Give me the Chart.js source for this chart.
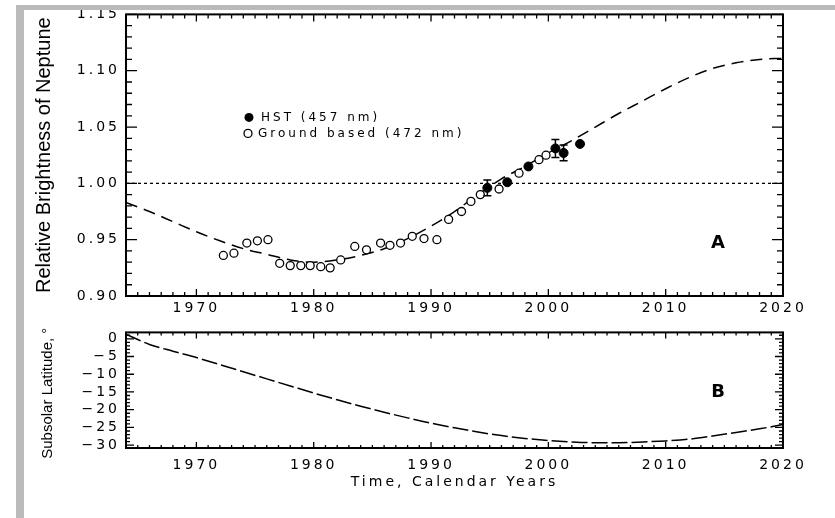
<!DOCTYPE html>
<html>
<head>
  <title>Neptune Brightness</title>
  <script src="https://cdn.jsdelivr.net/npm/chart.js"></script>
  <style>
    body { margin: 0; background: #fff; }
    #frame { position: relative; width: 835px; height: 518px; overflow: hidden; }
    .band { position: absolute; background: #bababa; z-index: 2; }
    canvas { position: absolute; left: 0; }
  </style>
</head>
<body>
  <div id="frame">
    <div class="band" style="left:16px; top:5px; width:819px; height:5px;"></div>
    <div class="band" style="left:16px; top:5px; width:8px; height:513px;"></div>
    <canvas id="brightChart" width="835" height="318" style="top:0"></canvas>
    <canvas id="latChart" width="835" height="200" style="top:318px"></canvas>
  </div>

  <script>
    // tick labels
    const yearTicks = [1970, 1980, 1990, 2000, 2010, 2020];
    const yearTickLabels = ['1970', '1980', '1990', '2000', '2010', '2020'];
    const brightTicks = [0.90, 0.95, 1.00, 1.05, 1.10, 1.15];
    const brightTickLabels = ['0.90', '0.95', '1.00', '1.05', '1.10', '1.15'];
    const latTicks = [0, -5, -10, -15, -20, -25, -30];
    const latTickLabels = ['0', '−5', '−10', '−15', '−20', '−25', '−30'];

    // ground based photometry (472 nm)
    const groundYears = [1972.3, 1973.2, 1974.3, 1975.2, 1976.1, 1977.1, 1978.0, 1978.9, 1979.7, 1980.6,
      1981.4, 1982.3, 1983.5, 1984.5, 1985.7, 1986.5, 1987.4, 1988.4, 1989.4, 1990.5,
      1991.5, 1992.6, 1993.4, 1994.2, 1995.8, 1997.5, 1999.2, 1999.8];
    const groundBright = [0.936, 0.938, 0.947, 0.949, 0.950, 0.929, 0.927, 0.927, 0.927, 0.926,
      0.925, 0.932, 0.944, 0.941, 0.947, 0.945, 0.947, 0.953, 0.951, 0.950,
      0.968, 0.975, 0.984, 0.990, 0.995, 1.009, 1.021, 1.025];

    // HST (457 nm)
    const hstYears = [1994.8, 1996.5, 1998.3, 2000.6, 2001.3, 2002.7];
    const hstBright = [0.996, 1.001, 1.015, 1.031, 1.027, 1.035];
    const hstErr = [0.007, 0, 0, 0.008, 0.007, 0];

    // model curve
    const modelYears = [1964, 1966, 1968, 1970, 1972, 1974, 1976, 1978, 1980, 1982, 1984, 1986, 1988, 1990,
      1992, 1994, 1996, 1998, 2000, 2002, 2004, 2006, 2008, 2010, 2012, 2014, 2016, 2018, 2020];
    const modelBright = [0.983, 0.975, 0.966, 0.957, 0.949, 0.942, 0.937, 0.932, 0.930, 0.932, 0.936, 0.942, 0.951, 0.962,
      0.975, 0.990, 1.004, 1.015, 1.027, 1.038, 1.050, 1.062, 1.073, 1.084, 1.094, 1.102, 1.107, 1.110, 1.111];

    const refYears = [1964, 2020];
    const refBright = [1.00, 1.00];

    // subsolar latitude
    const latYears = [1964, 1966, 1968, 1970, 1972, 1974, 1976, 1978, 1980, 1982, 1984, 1986, 1988, 1990,
      1992, 1994, 1996, 1998, 2000, 2002, 2004, 2006, 2008, 2010, 2012, 2014, 2016, 2018, 2020];
    const latValues = [1.3, -1.6, -3.5, -5.3, -7.3, -9.3, -11.3, -13.3, -15.3, -17.2, -19.0, -20.7, -22.3, -23.8,
      -25.1, -26.3, -27.3, -28.1, -28.7, -29.1, -29.3, -29.3, -29.1, -28.8, -28.3, -27.4, -26.4, -25.4, -24.2];

    function pts(xs, ys) {
      return xs.map((x, i) => ({ x: x, y: ys[i] }));
    }

    const tickFont = { family: 'DejaVu Sans', size: 14 };

    // wide lettering for the axis numbers, like the scanned figure
    const spacedText = {
      id: 'spacedText',
      beforeDraw(chart) { chart.ctx.letterSpacing = '3px'; },
      beforeDatasetsDraw(chart) { chart.ctx.letterSpacing = '0px'; }
    };

    function marks(min, max, step, every) {
      const out = [];
      const i0 = Math.ceil(min / step - 1e-6), i1 = Math.floor(max / step + 1e-6);
      for (let i = i0; i <= i1; i++) out.push({ v: i * step, major: i % every === 0 });
      return out;
    }

    // box with inward ticks on all four sides
    const frameTicks = {
      id: 'frameTicks',
      afterDatasetsDraw(chart, args, o) {
        const { ctx, chartArea: a, scales: { x, y } } = chart;
        ctx.save();
        ctx.strokeStyle = '#000';
        ctx.lineWidth = 1.3;
        ctx.beginPath();
        marks(x.min, x.max, o.xStep, o.xEvery).forEach(m => {
          const px = x.getPixelForValue(m.v);
          const len = m.major ? o.xMajor : o.xMinor;
          ctx.moveTo(px, a.bottom); ctx.lineTo(px, a.bottom - len);
          ctx.moveTo(px, a.top); ctx.lineTo(px, a.top + len);
        });
        marks(y.min, y.max, o.yStep, o.yEvery).forEach(m => {
          const py = y.getPixelForValue(m.v);
          const len = m.major ? o.yMajor : o.yMinor;
          ctx.moveTo(a.left, py); ctx.lineTo(a.left + len, py);
          ctx.moveTo(a.right, py); ctx.lineTo(a.right - len, py);
        });
        ctx.stroke();
        ctx.lineWidth = 2;
        ctx.strokeRect(a.left, a.top, a.right - a.left, a.bottom - a.top);
        ctx.restore();
      }
    };

    const errorBars = {
      id: 'errorBars',
      afterDatasetsDraw(chart) {
        const { ctx, scales: { x, y } } = chart;
        ctx.save();
        ctx.strokeStyle = '#000';
        ctx.lineWidth = 1.5;
        hstErr.forEach((e, i) => {
          if (!e) return;
          const px = x.getPixelForValue(hstYears[i]);
          const top = y.getPixelForValue(hstBright[i] + e);
          const bot = y.getPixelForValue(hstBright[i] - e);
          ctx.beginPath();
          ctx.moveTo(px, top); ctx.lineTo(px, bot);
          ctx.moveTo(px - 4, top); ctx.lineTo(px + 4, top);
          ctx.moveTo(px - 4, bot); ctx.lineTo(px + 4, bot);
          ctx.stroke();
        });
        ctx.restore();
      }
    };

    // rotated y titles, panel letters and the inset legend
    const panelText = {
      id: 'panelText',
      afterDraw(chart, args, o) {
        const { ctx, chartArea: a } = chart;
        ctx.save();
        ctx.letterSpacing = '0px';
        ctx.fillStyle = '#000';
        ctx.save();
        ctx.translate(o.titleX, (a.top + a.bottom) / 2 + o.titleShift);
        ctx.rotate(-Math.PI / 2);
        ctx.font = o.titleFont;
        ctx.textAlign = 'center';
        ctx.textBaseline = 'middle';
        ctx.fillText(o.title, 0, 0);
        ctx.restore();

        ctx.font = 'bold 18px "DejaVu Sans"';
        ctx.textAlign = 'center';
        ctx.textBaseline = 'middle';
        ctx.fillText(o.letter, a.right - 65, o.letterFromTop ? a.top + o.letterOffset : a.bottom - o.letterOffset);

        if (o.legend) {
          const lx = a.left + 123, ly = a.top + 103;
          ctx.beginPath();
          ctx.arc(lx, ly, 4.5, 0, Math.PI * 2);
          ctx.fill();
          ctx.beginPath();
          ctx.lineWidth = 1.3;
          ctx.strokeStyle = '#000';
          ctx.arc(lx - 1, ly + 16, 4, 0, Math.PI * 2);
          ctx.stroke();
          ctx.letterSpacing = '3px';
          ctx.font = '12px "DejaVu Sans"';
          ctx.textAlign = 'left';
          ctx.fillText('HST (457 nm)', lx + 12, ly);
          ctx.fillText('Ground based (472 nm)', lx + 9, ly + 16);
        }
        ctx.restore();
      }
    };

    function yearAxis(height, pad) {
      return {
        type: 'linear', min: 1964, max: 2020,
        grid: { display: false, drawTicks: false }, border: { display: false },
        afterBuildTicks: s => { s.ticks = yearTicks.map(v => ({ value: v })); },
        afterFit: s => { s.height = height; },
        ticks: { padding: pad, color: '#000', font: tickFont, autoSkip: false, maxRotation: 0,
          callback: (v, i) => yearTickLabels[i] }
      };
    }

    new Chart(document.getElementById('brightChart'), {
      type: 'scatter',
      data: {
        datasets: [
          { label: 'HST (457 nm)', data: pts(hstYears, hstBright), pointRadius: 4.5,
            pointBackgroundColor: '#000', pointBorderColor: '#000', order: 0 },
          { label: 'Ground based (472 nm)', data: pts(groundYears, groundBright), pointRadius: 4,
            pointBackgroundColor: '#fff', pointBorderColor: '#000', pointBorderWidth: 1.3, order: 1 },
          { label: 'Model', data: pts(modelYears, modelBright), showLine: true, pointRadius: 0,
            borderColor: '#000', borderWidth: 1.5, borderDash: [12, 7], cubicInterpolationMode: 'monotone', order: 2 },
          { label: 'Reference', data: pts(refYears, refBright), showLine: true, pointRadius: 0,
            borderColor: '#000', borderWidth: 1.3, borderDash: [3, 3], order: 3 }
        ]
      },
      options: {
        responsive: false,
        animation: false,
        layout: { padding: { left: 0, top: 14, right: 52, bottom: 0 } },
        scales: {
          x: yearAxis(22, 4),
          y: {
            type: 'linear', min: 0.90, max: 1.15,
            grid: { display: false, drawTicks: false }, border: { display: false },
            afterBuildTicks: s => { s.ticks = brightTicks.map(v => ({ value: v })); },
            afterFit: s => { s.width = 126; },
            ticks: { padding: 6, color: '#000', font: tickFont, autoSkip: false,
              callback: (v, i) => brightTickLabels[i] }
          }
        },
        plugins: {
          legend: { display: false },
          tooltip: { enabled: false },
          frameTicks: { xStep: 1, xEvery: 10, xMajor: 7, xMinor: 4, yStep: 0.01, yEvery: 5, yMajor: 11, yMinor: 6 },
          panelText: { title: 'Relative Brightness of Neptune', titleFont: '20px "Liberation Sans"',
            titleX: 44, titleShift: 0, letter: 'A', letterFromTop: false, letterOffset: 53, legend: true }
        }
      },
      plugins: [spacedText, frameTicks, errorBars, panelText]
    });

    new Chart(document.getElementById('latChart'), {
      type: 'scatter',
      data: {
        datasets: [
          { label: 'Subsolar latitude', data: pts(latYears, latValues), showLine: true, pointRadius: 0,
            borderColor: '#000', borderWidth: 1.5, borderDash: [16, 4], cubicInterpolationMode: 'monotone' }
        ]
      },
      options: {
        responsive: false,
        animation: false,
        layout: { padding: { left: 0, top: 7, right: 52, bottom: 0 } },
        scales: {
          x: Object.assign(yearAxis(70, 9), {
            title: { display: true, text: 'Time, Calendar Years', color: '#000',
              font: { family: 'DejaVu Sans', size: 14 }, padding: { top: 0, bottom: 27 } }
          }),
          y: {
            type: 'linear', min: -30.8, max: 1.8,
            grid: { display: false, drawTicks: false }, border: { display: false },
            afterBuildTicks: s => { s.ticks = latTicks.map(v => ({ value: v })); },
            afterFit: s => { s.width = 126; },
            ticks: { padding: 6, color: '#000', font: tickFont, autoSkip: false,
              callback: (v, i) => latTickLabels[i] }
          }
        },
        plugins: {
          legend: { display: false },
          tooltip: { enabled: false },
          frameTicks: { xStep: 1, xEvery: 10, xMajor: 6, xMinor: 3, yStep: 1, yEvery: 5, yMajor: 8, yMinor: 4 },
          panelText: { title: 'Subsolar Latitude, °', titleFont: '15px "Liberation Sans"',
            titleX: 48, titleShift: 3, letter: 'B', letterFromTop: true, letterOffset: 60, legend: false }
        }
      },
      plugins: [spacedText, frameTicks, panelText]
    });
  </script>
</body>
</html>
